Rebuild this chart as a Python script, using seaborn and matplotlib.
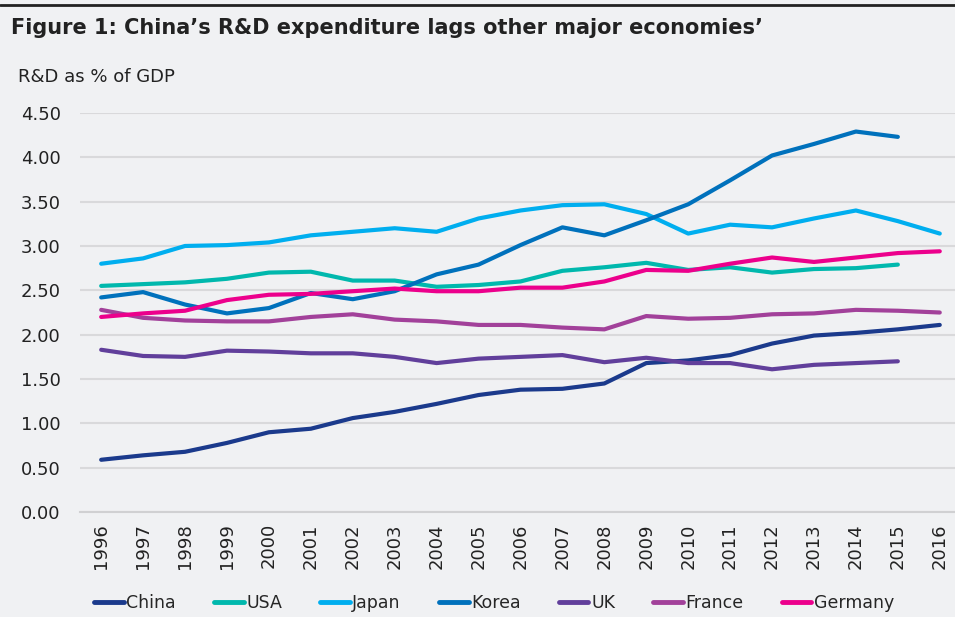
import pandas as pd
import numpy as np
import matplotlib
matplotlib.use("Agg")
import matplotlib.pyplot as plt
import seaborn as sns

# ================================
# Data
# ================================

years = list(range(1996, 2017))

china = [0.59, 0.64, 0.68, 0.78, 0.90, 0.94, 1.06, 1.13, 1.22, 1.32, 1.38,
         1.39, 1.45, 1.68, 1.71, 1.77, 1.90, 1.99, 2.02, 2.06, 2.11]
usa = [2.55, 2.57, 2.59, 2.63, 2.70, 2.71, 2.61, 2.61, 2.54, 2.56, 2.60,
       2.72, 2.76, 2.81, 2.73, 2.76, 2.70, 2.74, 2.75, 2.79, np.nan]
japan = [2.80, 2.86, 3.00, 3.01, 3.04, 3.12, 3.16, 3.20, 3.16, 3.31, 3.40,
         3.46, 3.47, 3.36, 3.14, 3.24, 3.21, 3.31, 3.40, 3.28, 3.14]
korea = [2.42, 2.48, 2.34, 2.24, 2.30, 2.47, 2.40, 2.49, 2.68, 2.79, 3.01,
         3.21, 3.12, 3.29, 3.47, 3.74, 4.02, 4.15, 4.29, 4.23, np.nan]
uk = [1.83, 1.76, 1.75, 1.82, 1.81, 1.79, 1.79, 1.75, 1.68, 1.73, 1.75,
      1.77, 1.69, 1.74, 1.68, 1.68, 1.61, 1.66, 1.68, 1.70, np.nan]
france = [2.28, 2.19, 2.16, 2.15, 2.15, 2.20, 2.23, 2.17, 2.15, 2.11, 2.11,
          2.08, 2.06, 2.21, 2.18, 2.19, 2.23, 2.24, 2.28, 2.27, 2.25]
germany = [2.20, 2.24, 2.27, 2.39, 2.45, 2.46, 2.49, 2.52, 2.49, 2.49, 2.53,
           2.53, 2.60, 2.73, 2.72, 2.80, 2.87, 2.82, 2.87, 2.92, 2.94]

countries = ["China", "USA", "Japan", "Korea", "UK", "France", "Germany"]
colors = ["#1b3a8c", "#00b8ad", "#00aeef", "#0071bc", "#613f9b", "#a2419a", "#ec008c"]

# ================================
# Long-form table
# ================================

wide = pd.DataFrame({
    "China": china, "USA": usa, "Japan": japan, "Korea": korea,
    "UK": uk, "France": france, "Germany": germany,
}, index=years)

df = wide.reset_index(names="Year").melt(
    id_vars="Year", var_name="Country", value_name="Value"
).dropna()

df["pos"] = df["Year"] - years[0]

# ================================
# Plot
# ================================

bg = "#f0f1f3"

sns.set_theme(style="white")
plt.rcParams["font.family"] = ["DejaVu Sans"]

fig = plt.figure(figsize=(9.55, 6.17), dpi=100, facecolor=bg)
ax = fig.add_axes([0.084, 0.170, 0.922, 0.647], facecolor=bg)

sns.lineplot(
    data=df, x="pos", y="Value", hue="Country",
    hue_order=countries, palette=colors,
    linewidth=3.0, ax=ax, legend=True,
    solid_capstyle="round",
)

ax.set_ylim(0, 4.5)
ax.set_xlim(-0.5, len(years) - 0.5)

yticks = np.arange(0, 4.51, 0.5)
ax.set_yticks(yticks)
ax.set_yticklabels(["%.2f" % v for v in yticks], fontsize=13, color="#222222")
ax.yaxis.grid(True, color="#d9d9db", linewidth=1.5)
ax.set_axisbelow(True)

ax.set_xticks(range(len(years)))
ax.set_xticklabels([str(y) for y in years], rotation=90, fontsize=13,
                   color="#222222")
ax.set_xticks(np.arange(-0.5, len(years), 1.0), minor=True)
ax.tick_params(axis="x", which="major", length=0, pad=8)
ax.tick_params(axis="x", which="minor", length=6, width=1.2, color="#d0d0d2")
ax.tick_params(axis="y", length=0, pad=14)

for side in ["top", "right", "left"]:
    ax.spines[side].set_visible(False)
ax.spines["bottom"].set_color("#d0d0d2")
ax.spines["bottom"].set_linewidth(1.5)

ax.set_xlabel("")
ax.set_ylabel("")

leg = ax.legend(
    loc="upper center", bbox_to_anchor=(0.47, -0.165), ncol=7,
    frameon=False, fontsize=12.5, handlelength=1.7, handletextpad=0.15,
    columnspacing=2.2,
)
for line in leg.get_lines():
    line.set_linewidth(3.5)
    line.set_solid_capstyle("round")

fig.text(0.012, 0.955, "Figure 1: China\u2019s R&D expenditure lags other major economies\u2019",
         fontsize=15, fontweight="bold", color="#222222", va="center")
fig.text(0.019, 0.875, "R&D as % of GDP", fontsize=13, color="#222222",
         va="center")

fig.add_artist(plt.Line2D([0, 1], [0.992, 0.992], color="#222222",
                          linewidth=2, transform=fig.transFigure))

fig.savefig("out.png", dpi=100, facecolor=bg)
